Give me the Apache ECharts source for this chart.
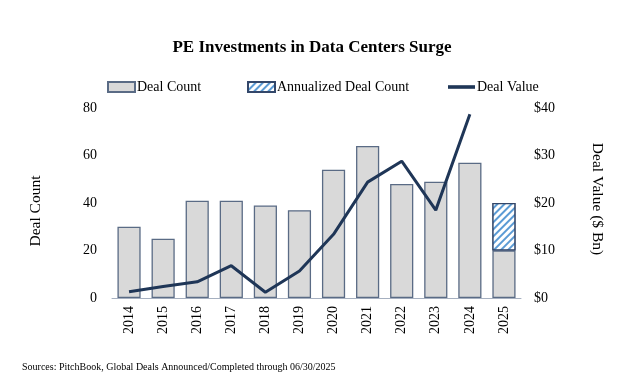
<!DOCTYPE html>
<html><head><meta charset="utf-8">
<script src="https://cdn.jsdelivr.net/npm/echarts@6/dist/echarts.min.js"></script>
<style>html,body{margin:0;padding:0;background:#fff}#c{width:624px;height:384px}</style>
</head><body><div id="c"></div>
<script>
const years = ['2014','2015','2016','2017','2018','2019','2020','2021','2022','2023','2024','2025'];
const dealCount = [30,25,41,41,39,37,54,64,48,49,57,20];
const annualized = [null,null,null,null,null,null,null,null,null,null,null,20];
const dealValue = [1.3,2.4,3.4,6.8,1.2,5.7,13.4,24.4,28.8,18.5,38.7,null];
const leftTicks = [0,20,40,60,80];
const rightTicks = [0,10,20,30,40];

const F = 'Liberation Serif, Times New Roman, serif';
const chart = echarts.init(document.getElementById('c'));
const hatch = {symbol:'rect', symbolSize:1, dashArrayX:[1,0], dashArrayY:[2,2.5], rotation:-Math.PI/4, color:'#5b9bd5', backgroundColor:'#ffffff'};
const legText = {fontFamily:F, fontSize:14, color:'#000', padding:[0,0,0,-3]};
chart.setOption({
  animation:false,
  textStyle:{fontFamily:F, color:'#000'},
  title:{text:'PE Investments in Data Centers Surge', left:'center', top:34,
    textStyle:{fontFamily:F, fontSize:17, fontWeight:'bold', color:'#000'}},
  legend:[
    {data:[{name:'Deal Count', icon:'rect'}], left:102, top:75, itemWidth:27, itemHeight:10, textStyle:legText},
    {data:[{name:'Annualized Deal Count', icon:'rect'}], left:242, top:75, itemWidth:27, itemHeight:10, textStyle:legText},
    {data:[{name:'Deal Value', icon:'path://M0,0 L30,0 L30,4 L0,4 Z'}], left:443, top:75, itemWidth:27, itemHeight:4, textStyle:legText}
  ],
  grid:{left:112, right:103, top:108, bottom:86},
  xAxis:{type:'category', data:years,
    axisLine:{lineStyle:{color:'#a6b0c0', width:1}}, axisTick:{show:false},
    axisLabel:{rotate:90, fontFamily:F, fontSize:14, color:'#000', margin:8}},
  yAxis:[
    {type:'value', min:0, max:80, interval:20, name:'Deal Count', nameLocation:'middle', nameGap:68,
      nameTextStyle:{fontFamily:F, fontSize:15.5, color:'#000', padding:[0,16,0,0]},
      splitLine:{show:false}, axisLine:{show:false}, axisTick:{show:false},
      axisLabel:{fontFamily:F, fontSize:14, color:'#000', margin:15}},
    {type:'value', min:0, max:40, interval:10, name:'Deal Value ($ Bn)', nameLocation:'middle', nameGap:68, nameRotate:-90,
      nameTextStyle:{fontFamily:F, fontSize:15.5, color:'#000', padding:[0,8,0,0]},
      splitLine:{show:false}, axisLine:{show:false}, axisTick:{show:false},
      axisLabel:{fontFamily:F, fontSize:14, color:'#000', margin:13, formatter:v=>'$'+v}}
  ],
  series:[
    {name:'Deal Count', type:'bar', stack:'a', data:dealCount, barWidth:'68%',
      itemStyle:{color:'#d9d9d9', borderColor:'#5a6b85', borderWidth:1.3}},
    {name:'Annualized Deal Count', type:'bar', stack:'a', data:annualized, barWidth:'68%',
      itemStyle:{color:'#ffffff', borderColor:'#33476a', borderWidth:1.3, decal:hatch}},
    {name:'Deal Value', type:'line', yAxisIndex:1, data:dealValue, symbol:'none',
      lineStyle:{color:'#1f3657', width:3}, itemStyle:{color:'#1f3657'}}
  ],
  graphic:[{type:'text', left:22, top:362, style:{text:'Sources: PitchBook, Global Deals Announced/Completed through 06/30/2025', fontFamily:F, fontSize:10, fill:'#000'}}]
});
</script></body></html>
